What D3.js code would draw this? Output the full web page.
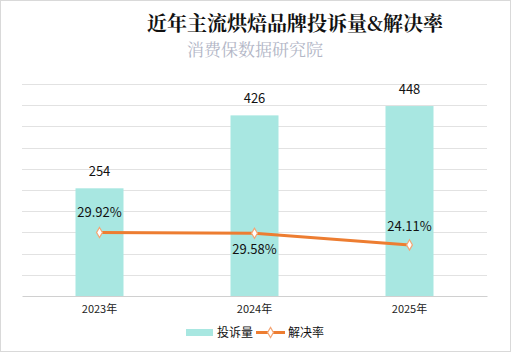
<!DOCTYPE html>
<html><head><meta charset="utf-8">
<script src="https://cdn.jsdelivr.net/npm/d3@7"></script>
<style>body{margin:0;background:#fff}svg{display:block}</style>
</head><body>
<script>
const categories = ["2023年", "2024年", "2025年"];
const complaints = [254, 426, 448];
const resolveRate = [29.92, 29.58, 24.11];
const barTicks = d3.range(0, 501, 50);
const title = "近年主流烘焙品牌投诉量&解决率";
const subtitle = "消费保数据研究院";
const legendNames = ["投诉量", "解决率"];

const W = 511, H = 352;
const m = {left: 22, right: 24, top: 84, bottom: 56};
const svg = d3.select("body").append("svg").attr("width", W).attr("height", H);
svg.append("rect").attr("x", 0.5).attr("y", 0.5).attr("width", W - 1).attr("height", H - 1)
  .attr("fill", "#fff").attr("stroke", "#d9d9d9");

const x = d3.scaleBand().domain(categories).range([m.left, W - m.right]).paddingInner(0).paddingOuter(0);
const y = d3.scaleLinear().domain([0, 500]).range([H - m.bottom, m.top]);
const y2 = d3.scaleLinear().domain([0, 100]).range([H - m.bottom, m.top]);
const barW = 48;

// grid
svg.append("g").selectAll("line").data(barTicks.slice(1)).join("line")
  .attr("x1", m.left).attr("x2", W - m.right)
  .attr("y1", d => Math.round(y(d)) + 0.5).attr("y2", d => Math.round(y(d)) + 0.5)
  .attr("stroke", "#e2e2e2").attr("stroke-width", 1);

// bars
svg.append("g").selectAll("rect").data(complaints).join("rect")
  .attr("x", (d, i) => x(categories[i]) + x.bandwidth() / 2 - barW / 2)
  .attr("width", barW)
  .attr("y", d => y(d)).attr("height", d => y(0) - y(d))
  .attr("fill", "#a8e7e1");

// x axis
const xAxis = svg.append("g").attr("transform", `translate(0,${y(0)})`)
  .call(d3.axisBottom(x).tickSize(0).tickPadding(9));
xAxis.select(".domain").attr("stroke", "#d0d0d0");
xAxis.selectAll("text").attr("font-family", "'Noto Sans CJK SC', sans-serif").attr("font-size", 11).attr("fill", "#222");

// bar labels
svg.append("g").selectAll("text").data(complaints).join("text")
  .attr("x", (d, i) => x(categories[i]) + x.bandwidth() / 2)
  .attr("y", d => y(d) - 12)
  .attr("text-anchor", "middle").attr("font-family", "'Noto Sans CJK SC', sans-serif")
  .attr("font-size", 13).attr("fill", "#111").text(d => d);

// line
const cx = (i) => x(categories[i]) + x.bandwidth() / 2;
const line = d3.line().x((d, i) => cx(i)).y(d => y2(d));
svg.append("path").datum(resolveRate).attr("d", line)
  .attr("fill", "none").attr("stroke", "#ed7d31").attr("stroke-width", 3);
svg.append("g").selectAll("path").data(resolveRate).join("path")
  .attr("d", d3.symbol(d3.symbolDiamond, 30))
  .attr("transform", (d, i) => `translate(${cx(i)},${y2(d)})`)
  .attr("fill", "#fff").attr("stroke", "#f4a574").attr("stroke-width", 1.2);

// line labels
const offs = [-16, 21, -14];
svg.append("g").selectAll("text").data(resolveRate).join("text")
  .attr("x", (d, i) => cx(i))
  .attr("y", (d, i) => y2(d) + offs[i])
  .attr("text-anchor", "middle").attr("font-family", "'Noto Sans CJK SC', sans-serif")
  .attr("font-size", 13).attr("fill", "#111").text(d => d.toFixed(2) + "%");

// title
svg.append("text").attr("x", 295).attr("y", 31).attr("text-anchor", "middle")
  .attr("font-family", "'Noto Serif CJK SC', 'Noto Sans CJK SC', serif").attr("font-weight", "bold")
  .attr("font-size", 20).attr("fill", "#111").text(title);
svg.append("text").attr("x", 255).attr("y", 56).attr("text-anchor", "middle")
  .attr("font-family", "'Noto Serif CJK SC', serif").attr("font-weight", "normal")
  .attr("font-size", 17).attr("fill", "#b2b6c6").text(subtitle);

// legend
const lg = svg.append("g").attr("font-family", "'Noto Sans CJK SC', sans-serif").attr("font-size", 12).attr("fill", "#111");
lg.append("rect").attr("x", 186).attr("y", 329).attr("width", 27).attr("height", 7).attr("fill", "#a8e7e1");
lg.append("text").attr("x", 217).attr("y", 337).text(legendNames[0]);
lg.append("line").attr("x1", 256).attr("x2", 285).attr("y1", 332.5).attr("y2", 332.5).attr("stroke", "#ed7d31").attr("stroke-width", 3);
lg.append("path").attr("d", d3.symbol(d3.symbolDiamond, 30)).attr("transform", "translate(270.5,332.5)")
  .attr("fill", "#fff").attr("stroke", "#f4a574").attr("stroke-width", 1.2);
lg.append("text").attr("x", 288).attr("y", 337).text(legendNames[1]);
</script>
</body></html>
